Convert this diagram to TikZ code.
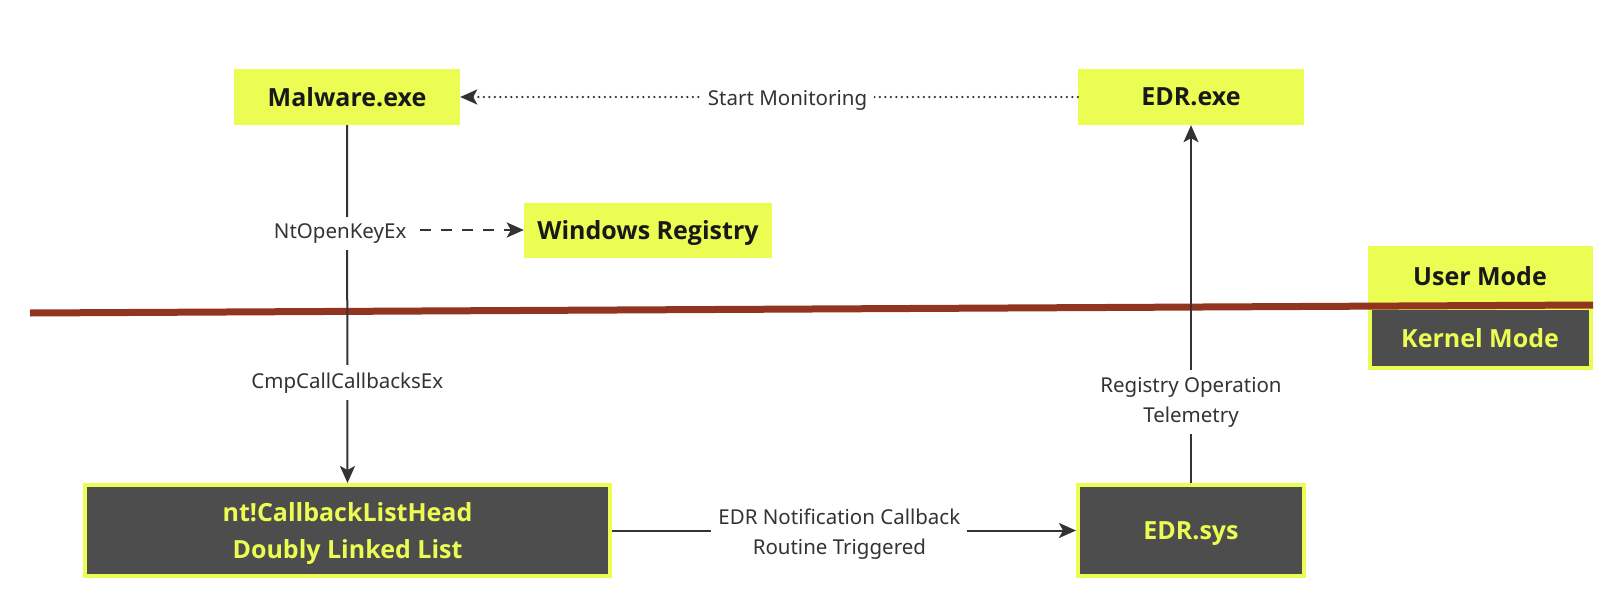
\documentclass[tikz,border=0pt]{standalone}
\usepackage{fontspec}
\setmainfont{Noto Sans}
\newfontfamily\boxfont{Open Sans}
\usetikzlibrary{positioning,arrows.meta,calc}

\definecolor{hlyellow}{HTML}{EBFC52}
\definecolor{kgray}{HTML}{4D4D4D}
\definecolor{divred}{HTML}{923520}
\definecolor{inkdark}{HTML}{333333}

\begin{document}
\begin{tikzpicture}[
    x=1pt, y=-1pt,
    >={Stealth[length=17pt,width=15pt,inset=4pt]},
    userbox/.style   = {fill=hlyellow, draw=none, align=center, text depth=0pt,
                        text=black!90, font=\fontsize{25}{37}\selectfont\boxfont\bfseries},
    kernelbox/.style = {fill=kgray, draw=hlyellow, line width=4pt, align=center, text depth=0pt,
                        text=hlyellow, font=\fontsize{25}{37}\selectfont\boxfont\bfseries},
    lbl/.style       = {fill=white, align=center, text=inkdark, inner sep=7pt,
                        yshift=-3.5pt, font=\fontsize{20.5}{30}\selectfont},
    flow/.style      = {draw=inkdark, line width=2pt, ->},
    every edge/.style = {draw=inkdark, line width=2pt, ->}
]
\useasboundingbox (0,0) rectangle (1621,605);

% =========================================================
% USER MODE
% =========================================================
\node[userbox, minimum width=226, minimum height=56] (malware) at (347,97) {Malware.exe};
\node[userbox, minimum width=226, minimum height=56] (edrexe)  at (1191,97) {EDR.exe};
\node[userbox, minimum width=248, minimum height=55] (winreg)  at (648,230) {Windows Registry};

% =========================================================
% MODE LEGEND
% =========================================================
\node[userbox, minimum width=225, minimum height=60] (usermode) at (1480,276) {User Mode};
\node[kernelbox, minimum width=221, minimum height=60, below=0pt of usermode] (kernelmode) {Kernel Mode};

% =========================================================
% KERNEL MODE
% =========================================================
\node[kernelbox, minimum width=525, minimum height=91] (cblist) at (347.5,530.5)
    {nt!CallbackListHead\\Doubly Linked List};
\node[kernelbox, minimum width=226, minimum height=91] (edrsys) at (1191,530.5) {EDR.sys};

% =========================================================
% BOUNDARY
% =========================================================
\draw[divred, line width=7pt] (30,313) -- (1593,305);

% =========================================================
% ARROWS
% =========================================================
\draw[flow, line width=2.5pt, line cap=round, dash pattern=on 0pt off 5.5pt] (edrexe.west) -- (malware.east)
    node[lbl, pos=0.47] (startmon) {Start Monitoring};

\draw[flow] (malware.south) -- (cblist.north)
    node[lbl, pos=0.293, xshift=-7pt] (ntopen) {NtOpenKeyEx}
    node[lbl, pos=0.71] (cmpcall) {CmpCallCallbacksEx};

\draw[flow, line width=2.5pt, dash pattern=on 11pt off 10pt] (ntopen.east |- winreg.west) ++(6pt,0) -- (winreg.west);

\path
  (cblist.east)  edge node[lbl, pos=0.49] (notify) {EDR Notification Callback\\Routine Triggered} (edrsys.west)
  (edrsys.north) edge node[lbl, pos=0.235] (telemetry) {Registry Operation\\Telemetry} (edrexe.south);

\end{tikzpicture}
\end{document}
